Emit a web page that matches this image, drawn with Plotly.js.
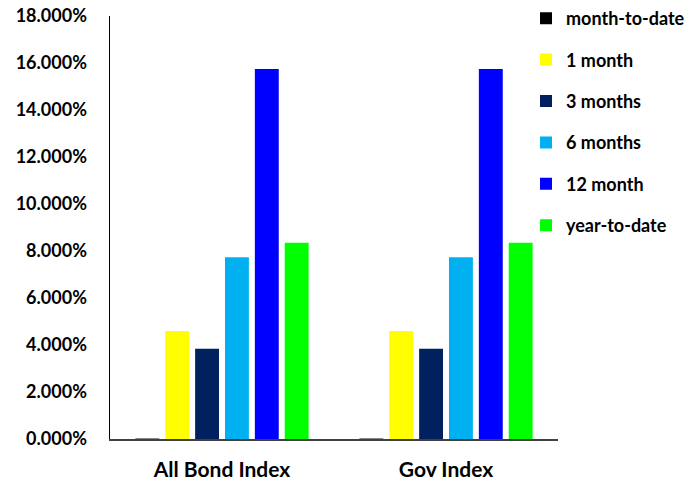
<!DOCTYPE html>
<html>
<head>
<meta charset="utf-8">
<script src="https://cdn.plot.ly/plotly-3.0.1.min.js"></script>
<style>html,body{margin:0;padding:0;background:#fff;}#chart{width:697px;height:485px;}</style>
</head>
<body>
<div id="chart"></div>
<script>
const categories = ["All Bond Index", "Gov Index"];
const seriesNames = ["month-to-date", "1 month", "3 months", "6 months", "12 month", "year-to-date"];
const monthToDate = [0.0002, 0.0002];
const oneMonth = [0.0460, 0.0460];
const threeMonths = [0.0384, 0.0384];
const sixMonths = [0.0773, 0.0773];
const twelveMonth = [0.1574, 0.1574];
const yearToDate = [0.0835, 0.0835];
const colors = ["#000000", "#FFFF00", "#002060", "#00B0F0", "#0000FF", "#00FF00"];

const values = [monthToDate, oneMonth, threeMonths, sixMonths, twelveMonth, yearToDate];
const traces = values.map((v, i) => ({
  type: "bar",
  name: seriesNames[i],
  x: categories,
  y: v,
  marker: {color: colors[i]},
  legendgroup: "g" + i,
  hoverinfo: "name+y"
}));

const font = "Lato, 'Open Sans', 'Liberation Sans', sans-serif";
const layout = {
  width: 697, height: 485,
  margin: {l: 110, r: 139, t: 16, b: 46, autoexpand: false},
  paper_bgcolor: "#fff", plot_bgcolor: "#fff",
  barmode: "group", bargap: 0.2, bargroupgap: 0.2,
  showlegend: true,
  legend: {
    xref: "paper", x: 0.9286, xanchor: "left",
    yref: "container", y: 1.009, yanchor: "top",
    font: {family: font, size: 18, color: "#000", weight: "bold"},
    tracegroupgap: 15, itemwidth: 30,
    bgcolor: "rgba(0,0,0,0)"
  },
  xaxis: {
    showline: true, linecolor: "#404040", linewidth: 1.5,
    ticks: "", showgrid: false, zeroline: false,
    tickfont: {family: font, size: 21, color: "#000", weight: "bold"},
    ticklabelstandoff: 11
  },
  yaxis: {
    range: [0, 0.18], dtick: 0.02, tickformat: ".3%",
    showline: true, linecolor: "#000", linewidth: 1.5,
    ticks: "", showgrid: false, zeroline: false,
    tickfont: {family: font, size: 18, color: "#000", weight: "bold"},
    ticklabelstandoff: 18
  }
};
Plotly.newPlot("chart", traces, layout, {displayModeBar: false, staticPlot: true});
</script>
</body>
</html>
